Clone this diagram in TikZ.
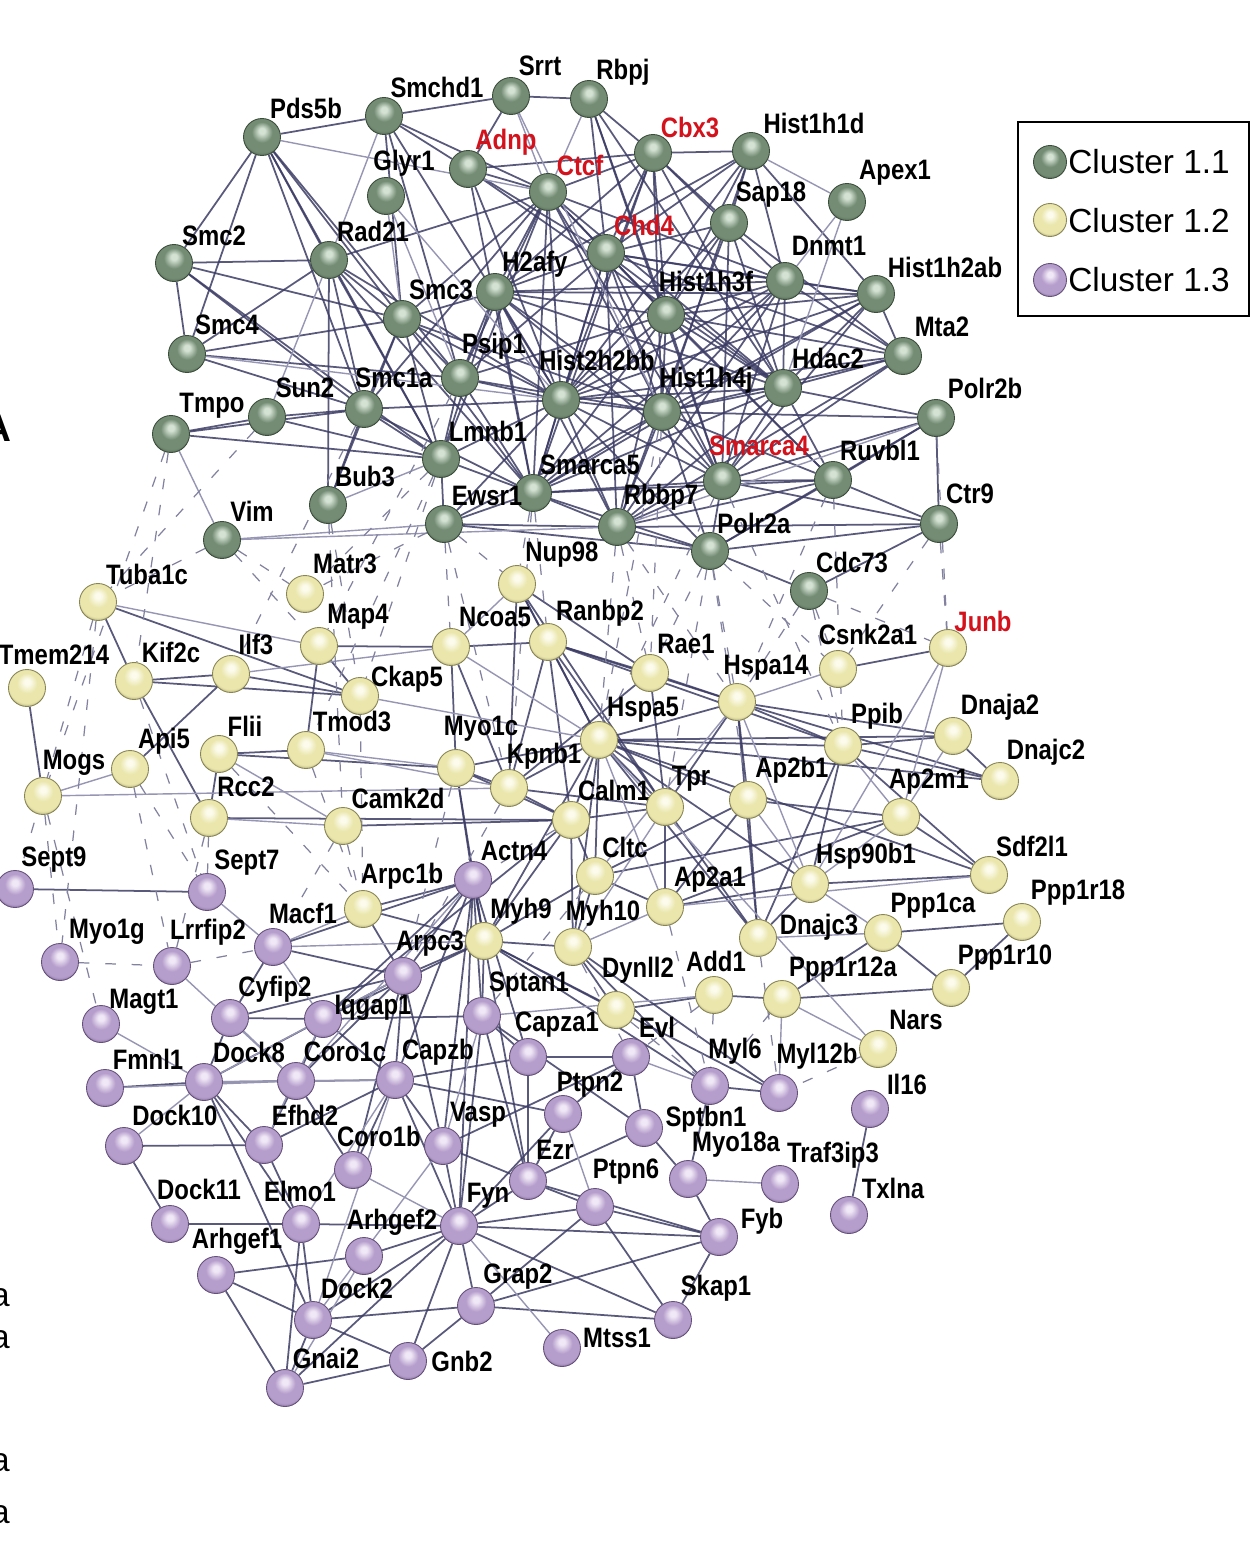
\documentclass[tikz,border=0pt]{standalone}
\usepackage{fontspec}
\setmainfont{Liberation Sans}
\newfontfamily\lblfont{Liberation Sans}[FakeStretch=0.85]
\definecolor{gmain}{RGB}{116,140,116}
\definecolor{gdark}{RGB}{58,76,58}
\definecolor{ghi}{RGB}{212,226,212}
\definecolor{ymain}{RGB}{234,230,172}
\definecolor{ydark}{RGB}{136,132,84}
\definecolor{yhi}{RGB}{252,251,236}
\definecolor{pmain}{RGB}{182,158,204}
\definecolor{pdark}{RGB}{100,80,122}
\definecolor{phi}{RGB}{240,232,246}
\definecolor{edgec}{RGB}{60,60,102}
\definecolor{edgel}{RGB}{150,150,180}
\definecolor{edged}{RGB}{130,130,160}
\definecolor{labred}{RGB}{212,18,28}
\pgfdeclareradialshading{gball}{\pgfqpoint{0bp}{9bp}}{color(0bp)=(ghi); color(4bp)=(ghi); color(14bp)=(gmain); color(25bp)=(gmain); color(33bp)=(gdark); color(50bp)=(gdark)}
\pgfdeclareradialshading{yball}{\pgfqpoint{0bp}{9bp}}{color(0bp)=(yhi); color(4bp)=(yhi); color(14bp)=(ymain); color(25bp)=(ymain); color(33bp)=(ydark); color(50bp)=(ydark)}
\pgfdeclareradialshading{pball}{\pgfqpoint{0bp}{9bp}}{color(0bp)=(phi); color(4bp)=(phi); color(14bp)=(pmain); color(25bp)=(pmain); color(33bp)=(pdark); color(50bp)=(pdark)}
\pgfdeclarelayer{bgl}
\pgfdeclarelayer{edges}
\pgfsetlayers{bgl,edges,main}
\newcommand\NN[7]{\node[#1] (#3) at (#4,#5) {}; \node[#2] (#3-t) at (#6,#7) {#3};}
\begin{document}
\begin{tikzpicture}[x=0.02cm,y=-0.02cm,
  ball/.style={circle, minimum size=0.74cm, inner sep=0pt, line width=0.5pt},
  gn/.style={ball, shading=gball, draw=gdark},
  yn/.style={ball, shading=yball, draw=ydark},
  pn/.style={ball, shading=pball, draw=pdark},
  lbl/.style={font=\lblfont\bfseries\fontsize{16}{18}\selectfont, inner sep=0pt, text=black},
  lr/.style={lbl, text=labred},
  e/.style={draw=edgec, line width=1.0pt, opacity=0.85},
  el/.style={draw=edgel, line width=0.8pt},
  ed/.style={draw=edged, line width=0.7pt, dash pattern=on 6pt off 9pt},
  legtext/.style={font=\fontsize{19}{22}\selectfont, inner sep=0pt, anchor=west}
]
\useasboundingbox (0,0) rectangle (1251,1559);
\begin{pgfonlayer}{bgl}
\fill[white] (0,0) rectangle (1251,1559);
\end{pgfonlayer}
% ---------------- cluster 1.1 ----------------
\NN{gn}{lbl}{Pds5b}{262}{137}{306}{108}
\NN{gn}{lbl}{Smchd1}{384}{116}{437}{87}
\NN{gn}{lbl}{Srrt}{511}{96}{540}{66}
\NN{gn}{lbl}{Rbpj}{589}{99}{623}{72}
\NN{gn}{lbl}{Glyr1}{386}{196}{404}{163}
\NN{gn}{lr}{Adnp}{468}{169}{506}{142}
\NN{gn}{lr}{Ctcf}{548}{192}{580}{165}
\NN{gn}{lr}{Cbx3}{653}{153}{690}{127}
\NN{gn}{lbl}{Hist1h1d}{751}{151}{814}{123}
\NN{gn}{lbl}{Apex1}{847}{202}{895}{173}
\NN{gn}{lbl}{Sap18}{729}{223}{771}{195}
\NN{gn}{lr}{Chd4}{606}{253}{644}{225}
\NN{gn}{lbl}{Smc2}{174}{263}{214}{236}
\NN{gn}{lbl}{Rad21}{329}{260}{373}{231}
\NN{gn}{lbl}{H2afy}{495}{292}{535}{264}
\NN{gn}{lbl}{Smc3}{402}{319}{441}{290}
\NN{gn}{lbl}{Dnmt1}{785}{281}{829}{246}
\NN{gn}{lbl}{Hist1h3f}{666}{315}{706}{281}
\NN{gn}{lbl}{Hist1h2ab}{876}{294}{945}{267}
\NN{gn}{lbl}{Smc4}{187}{354}{227}{325}
\NN{gn}{lbl}{Psip1}{460}{378}{494}{346}
\NN{gn}{lbl}{Hist2h2bb}{561}{400}{597}{360}
\NN{gn}{lbl}{Mta2}{903}{356}{942}{327}
\NN{gn}{lbl}{Hdac2}{783}{388}{828}{358}
\NN{gn}{lbl}{Hist1h4j}{662}{412}{706}{380}
\NN{gn}{lbl}{Smc1a}{364}{409}{394}{378}
\NN{gn}{lbl}{Sun2}{267}{417}{305}{388}
\NN{gn}{lbl}{Tmpo}{171}{434}{212}{406}
\NN{gn}{lbl}{Polr2b}{936}{418}{985}{388}
\NN{gn}{lbl}{Lmnb1}{441}{459}{488}{431}
\NN{gn}{lr}{Smarca4}{722}{481}{759}{446}
\NN{gn}{lbl}{Ruvbl1}{833}{480}{880}{450}
\NN{gn}{lbl}{Smarca5}{533}{493}{590}{465}
\NN{gn}{lbl}{Bub3}{328}{505}{365}{476}
\NN{gn}{lbl}{Ewsr1}{444}{524}{487}{496}
\NN{gn}{lbl}{Rbbp7}{617}{527}{661}{497}
\NN{gn}{lbl}{Ctr9}{939}{524}{970}{494}
\NN{gn}{lbl}{Vim}{222}{540}{252}{511}
\NN{gn}{lbl}{Polr2a}{710}{551}{754}{523}
\NN{gn}{lbl}{Cdc73}{809}{591}{852}{562}
% ---------------- cluster 1.2 ----------------
\NN{yn}{lbl}{Nup98}{517}{584}{562}{555}
\NN{yn}{lbl}{Matr3}{305}{594}{345}{564}
\NN{yn}{lbl}{Tuba1c}{98}{602}{147}{574}
\NN{yn}{lbl}{Map4}{319}{646}{358}{617}
\NN{yn}{lbl}{Ncoa5}{451}{647}{495}{617}
\NN{yn}{lbl}{Ranbp2}{548}{642}{600}{613}
\NN{yn}{lbl}{Rae1}{650}{673}{686}{644}
\NN{yn}{lbl}{Csnk2a1}{838}{669}{868}{634}
\NN{yn}{lr}{Junb}{948}{648}{983}{621}
\NN{yn}{lbl}{Tmem214}{27}{688}{54}{655}
\NN{yn}{lbl}{Kif2c}{134}{681}{171}{652}
\NN{yn}{lbl}{Ilf3}{231}{674}{256}{644}
\NN{yn}{lbl}{Ckap5}{360}{696}{407}{679}
\NN{yn}{lbl}{Hspa14}{737}{702}{766}{668}
\NN{yn}{lbl}{Hspa5}{599}{740}{643}{710}
\NN{yn}{lbl}{Tmod3}{306}{750}{352}{721}
\NN{yn}{lbl}{Myo1c}{456}{768}{481}{729}
\NN{yn}{lbl}{Flii}{219}{754}{245}{726}
\NN{yn}{lbl}{Api5}{130}{769}{164}{741}
\NN{yn}{lbl}{Mogs}{43}{796}{74}{763}
\NN{yn}{lbl}{Kpnb1}{509}{788}{544}{756}
\NN{yn}{lbl}{Calm1}{571}{820}{614}{790}
\NN{yn}{lbl}{Tpr}{665}{807}{691}{779}
\NN{yn}{lbl}{Ap2b1}{748}{800}{792}{770}
\NN{yn}{lbl}{Ppib}{843}{746}{877}{716}
\NN{yn}{lbl}{Dnaja2}{953}{736}{1000}{707}
\NN{yn}{lbl}{Dnajc2}{1000}{781}{1046}{752}
\NN{yn}{lbl}{Ap2m1}{901}{817}{929}{782}
\NN{yn}{lbl}{Rcc2}{209}{818}{246}{787}
\NN{yn}{lbl}{Camk2d}{343}{826}{398}{798}
\NN{yn}{lbl}{Cltc}{595}{876}{625}{847}
\NN{yn}{lbl}{Hsp90b1}{810}{884}{866}{856}
\NN{yn}{lbl}{Sdf2l1}{989}{875}{1032}{846}
\NN{yn}{lbl}{Ap2a1}{665}{907}{710}{880}
\NN{yn}{lbl}{Arpc1b}{363}{909}{402}{876}
\NN{yn}{lbl}{Ppp1ca}{883}{933}{933}{906}
\NN{yn}{lbl}{Ppp1r18}{1022}{922}{1078}{893}
\NN{yn}{lbl}{Dnajc3}{758}{938}{819}{927}
\NN{yn}{lbl}{Myh9}{484}{941}{521}{911}
\NN{yn}{lbl}{Myh10}{573}{947}{603}{913}
\NN{yn}{lbl}{Add1}{714}{995}{716}{961}
\NN{yn}{lbl}{Ppp1r12a}{782}{999}{843}{970}
\NN{yn}{lbl}{Dynll2}{616}{1010}{638}{970}
\NN{yn}{lbl}{Ppp1r10}{951}{988}{1005}{958}
\NN{yn}{lbl}{Nars}{878}{1049}{916}{1020}
% ---------------- cluster 1.3 ----------------
\NN{pn}{lbl}{Actn4}{473}{880}{514}{851}
\NN{pn}{lbl}{Sept9}{15}{889}{54}{860}
\NN{pn}{lbl}{Sept7}{207}{892}{247}{863}
\NN{pn}{lbl}{Macf1}{273}{947}{303}{913}
\NN{pn}{lbl}{Myo1g}{60}{962}{107}{932}
\NN{pn}{lbl}{Lrrfip2}{172}{966}{208}{932}
\NN{pn}{lbl}{Arpc3}{403}{976}{430}{944}
\NN{pn}{lbl}{Magt1}{101}{1024}{144}{1002}
\NN{pn}{lbl}{Cyfip2}{230}{1018}{275}{989}
\NN{pn}{lbl}{Iqgap1}{323}{1019}{373}{1008}
\NN{pn}{lbl}{Sptan1}{482}{1016}{529}{985}
\NN{pn}{lbl}{Capza1}{528}{1057}{557}{1025}
\NN{pn}{lbl}{Evl}{631}{1057}{657}{1027}
\NN{pn}{lbl}{Fmnl1}{105}{1088}{148}{1059}
\NN{pn}{lbl}{Dock8}{204}{1082}{249}{1052}
\NN{pn}{lbl}{Coro1c}{296}{1081}{345}{1052}
\NN{pn}{lbl}{Capzb}{395}{1080}{438}{1052}
\NN{pn}{lbl}{Myl6}{710}{1086}{735}{1051}
\NN{pn}{lbl}{Myl12b}{779}{1093}{817}{1056}
\NN{pn}{lbl}{Ptpn2}{563}{1114}{590}{1085}
\NN{pn}{lbl}{Il16}{870}{1109}{907}{1084}
\NN{pn}{lbl}{Dock10}{124}{1146}{175}{1115}
\NN{pn}{lbl}{Efhd2}{264}{1145}{305}{1115}
\NN{pn}{lbl}{Coro1b}{353}{1170}{379}{1136}
\NN{pn}{lbl}{Vasp}{443}{1146}{478}{1115}
\NN{pn}{lbl}{Sptbn1}{644}{1128}{706}{1119}
\NN{pn}{lbl}{Ezr}{528}{1181}{555}{1150}
\NN{pn}{lbl}{Myo18a}{688}{1179}{736}{1145}
\NN{pn}{lbl}{Traf3ip3}{780}{1184}{833}{1155}
\NN{pn}{lbl}{Ptpn6}{595}{1207}{626}{1172}
\NN{pn}{lbl}{Txlna}{849}{1215}{893}{1188}
\NN{pn}{lbl}{Dock11}{170}{1224}{199}{1189}
\NN{pn}{lbl}{Elmo1}{301}{1224}{300}{1191}
\NN{pn}{lbl}{Fyn}{459}{1226}{488}{1196}
\NN{pn}{lbl}{Arhgef2}{364}{1256}{392}{1222}
\NN{pn}{lbl}{Fyb}{719}{1237}{762}{1221}
\NN{pn}{lbl}{Arhgef1}{216}{1275}{237}{1241}
\NN{pn}{lbl}{Dock2}{313}{1320}{357}{1288}
\NN{pn}{lbl}{Grap2}{476}{1306}{518}{1277}
\NN{pn}{lbl}{Skap1}{673}{1320}{716}{1288}
\NN{pn}{lbl}{Mtss1}{562}{1348}{617}{1338}
\NN{pn}{lbl}{Gnai2}{285}{1388}{326}{1358}
\NN{pn}{lbl}{Gnb2}{408}{1361}{462}{1361}
% ---------------- edges ----------------
\begin{pgfonlayer}{edges}
\foreach \a/\b in {Pds5b/Smchd1,Pds5b/Smc2,Pds5b/Smc4,Pds5b/Rad21,Pds5b/Smc3,Pds5b/Smc1a,Pds5b/Lmnb1,Pds5b/Psip1,
 Smchd1/Srrt,Smchd1/Adnp,Smchd1/Ctcf,Smchd1/Hist2h2bb,Smchd1/Smc3,Smchd1/Psip1,
 Srrt/Rbpj,Srrt/Adnp,Rbpj/Cbx3,Rbpj/Chd4,Rbpj/Hdac2,Rbpj/Hist1h3f,Rbpj/Smarca4,
 Adnp/Ctcf,Adnp/Chd4,Adnp/Cbx3,Adnp/Hist2h2bb,Adnp/Smarca5,Adnp/Hdac2,
 Ctcf/Cbx3,Ctcf/Rad21,Ctcf/Smc3,Ctcf/Smc1a,Ctcf/Chd4,Ctcf/H2afy,Ctcf/Hist1h3f,Ctcf/Hist2h2bb,Ctcf/Hist1h4j,Ctcf/Smarca5,Ctcf/Smarca4,Ctcf/Dnmt1,Ctcf/Hdac2,Ctcf/Lmnb1,Ctcf/Psip1,
 Cbx3/Hist1h1d,Cbx3/Chd4,Cbx3/Sap18,Cbx3/Hist1h3f,Cbx3/Hist1h4j,Cbx3/Dnmt1,Cbx3/Hdac2,Cbx3/Hist2h2bb,Cbx3/Smarca5,Cbx3/H2afy,
 Hist1h1d/Sap18,Hist1h1d/Hist1h3f,Hist1h1d/Dnmt1,Hist1h1d/Hist1h2ab,Hist1h1d/Chd4,Hist1h1d/Hist2h2bb,Hist1h1d/Hist1h4j,Hist1h1d/H2afy,
 Sap18/Chd4,Sap18/Hdac2,Sap18/Mta2,Sap18/Hist1h3f,Sap18/Smarca4,Sap18/Rbbp7,Sap18/Hist2h2bb,
 Chd4/H2afy,Chd4/Hist1h3f,Chd4/Dnmt1,Chd4/Hist1h2ab,Chd4/Mta2,Chd4/Hdac2,Chd4/Hist1h4j,Chd4/Hist2h2bb,Chd4/Smarca4,Chd4/Smarca5,Chd4/Rbbp7,Chd4/Ruvbl1,Chd4/Psip1,
 Smc2/Smc4,Smc2/Rad21,Smc2/Smc3,Smc2/Smc1a,Smc2/Lmnb1,
 Smc4/Rad21,Smc4/Smc3,Smc4/Smc1a,Smc4/Psip1,
 Rad21/Smc3,Rad21/Smc1a,Rad21/Bub3,Rad21/Lmnb1,Rad21/Smarca5,Rad21/Hist2h2bb,
 H2afy/Smc3,H2afy/Hist1h3f,H2afy/Hist2h2bb,H2afy/Hist1h4j,H2afy/Psip1,H2afy/Dnmt1,H2afy/Hist1h2ab,H2afy/Smarca5,H2afy/Hdac2,H2afy/Smarca4,H2afy/Lmnb1,H2afy/Rbbp7,
 Smc3/Smc1a,Smc3/Psip1,Smc3/Hist2h2bb,Smc3/Lmnb1,Smc3/Smarca5,Smc3/Bub3,Smc3/Hist1h4j,
 Dnmt1/Hist1h3f,Dnmt1/Hdac2,Dnmt1/Hist1h2ab,Dnmt1/Mta2,Dnmt1/Hist1h4j,Dnmt1/Hist2h2bb,Dnmt1/Smarca4,Dnmt1/Rbbp7,Dnmt1/Smarca5,
 Hist1h3f/Hist1h2ab,Hist1h3f/Hist2h2bb,Hist1h3f/Hist1h4j,Hist1h3f/Hdac2,Hist1h3f/Mta2,Hist1h3f/Smarca4,Hist1h3f/Smarca5,Hist1h3f/Rbbp7,Hist1h3f/Psip1,Hist1h3f/Ruvbl1,
 Hist1h2ab/Hist2h2bb,Hist1h2ab/Hist1h4j,Hist1h2ab/Hdac2,Hist1h2ab/Mta2,Hist1h2ab/Smarca4,Hist1h2ab/Smarca5,
 Mta2/Hdac2,Mta2/Hist1h4j,Mta2/Rbbp7,Mta2/Smarca4,Mta2/Hist2h2bb,
 Psip1/Hist2h2bb,Psip1/Smarca5,Psip1/Hist1h4j,Psip1/Lmnb1,
 Hist2h2bb/Hist1h4j,Hist2h2bb/Hdac2,Hist2h2bb/Smarca5,Hist2h2bb/Smarca4,Hist2h2bb/Rbbp7,Hist2h2bb/Lmnb1,Hist2h2bb/Ewsr1,Hist2h2bb/Polr2a,Hist2h2bb/Smc1a,
 Hdac2/Hist1h4j,Hdac2/Smarca4,Hdac2/Rbbp7,Hdac2/Ruvbl1,Hdac2/Smarca5,Hdac2/Polr2b,
 Hist1h4j/Smarca4,Hist1h4j/Smarca5,Hist1h4j/Rbbp7,Hist1h4j/Polr2a,Hist1h4j/Polr2b,Hist1h4j/Ruvbl1,Hist1h4j/Ewsr1,
 Smc1a/Sun2,Smc1a/Bub3,Smc1a/Lmnb1,Smc1a/Tmpo,Smc1a/Smarca5,
 Sun2/Tmpo,Sun2/Lmnb1,Tmpo/Lmnb1,
 Polr2b/Polr2a,Polr2b/Ctr9,Polr2b/Ruvbl1,Polr2b/Smarca4,
 Lmnb1/Ewsr1,Lmnb1/Smarca5,
 Smarca4/Ruvbl1,Smarca4/Smarca5,Smarca4/Rbbp7,Smarca4/Polr2a,Smarca4/Ctr9,
 Ruvbl1/Polr2a,Ruvbl1/Ctr9,Ruvbl1/Rbbp7,Ruvbl1/Smarca5,
 Smarca5/Ewsr1,Smarca5/Rbbp7,Smarca5/Polr2a,Ewsr1/Polr2a,Ewsr1/Rbbp7,
 Rbbp7/Polr2a,Rbbp7/Ctr9,Ctr9/Polr2a,Ctr9/Cdc73,Polr2a/Cdc73}
 {\draw[e] (\a) -- (\b);}
\foreach \a/\b in {Pds5b/Ctcf,Smchd1/Rad21,Glyr1/Smc3,Glyr1/Psip1,Glyr1/Hist2h2bb,Srrt/Ctcf,Srrt/Hist1h4j,Rbpj/Ctcf,
 Hist1h1d/Apex1,Apex1/Dnmt1,Apex1/Hdac2,Smc4/Hist2h2bb,Rad21/Sun2,Tmpo/Vim,Vim/Ewsr1,Vim/Rbbp7,Polr2b/Rbbp7,Bub3/Lmnb1}
 {\draw[el] (\a) -- (\b);}
% cluster 1.2
\foreach \a/\b in {Nup98/Ranbp2,Nup98/Rae1,Nup98/Kpnb1,Nup98/Hspa5,Nup98/Tpr,
 Ranbp2/Rae1,Ranbp2/Kpnb1,Ranbp2/Hspa5,Ranbp2/Tpr,Ranbp2/Ncoa5,Ranbp2/Calm1,Ranbp2/Hspa14,Ranbp2/Ppib,
 Ncoa5/Map4,Ncoa5/Myo1c,Ncoa5/Kpnb1,Rae1/Hspa14,Rae1/Kpnb1,Rae1/Tpr,
 Hspa5/Hspa14,Hspa5/Ppib,Hspa5/Dnaja2,Hspa5/Dnajc2,Hspa5/Hsp90b1,Hspa5/Dnajc3,Hspa5/Sdf2l1,Hspa5/Calm1,Hspa5/Kpnb1,Hspa5/Tpr,Hspa5/Myo1c,Hspa5/Cltc,Hspa5/Ap2b1,Hspa5/Myh9,Hspa5/Myh10,
 Hspa14/Ppib,Hspa14/Dnaja2,Hspa14/Dnajc2,Hspa14/Tpr,Hspa14/Ap2b1,Hspa14/Dnajc3,
 Csnk2a1/Junb,Ppib/Dnaja2,Ppib/Dnajc2,Ppib/Hsp90b1,Ppib/Sdf2l1,Ppib/Dnajc3,Dnaja2/Dnajc2,
 Ap2b1/Ap2m1,Ap2b1/Ap2a1,Ap2b1/Cltc,Ap2b1/Dnajc3,Ap2m1/Ap2a1,Ap2m1/Cltc,Ap2m1/Sdf2l1,
 Tpr/Kpnb1,Tpr/Calm1,Tpr/Ap2a1,Tpr/Dnajc3,
 Calm1/Kpnb1,Calm1/Myo1c,Calm1/Camk2d,Calm1/Cltc,Calm1/Myh9,Calm1/Myh10,Calm1/Iqgap1,Calm1/Rcc2,
 Kpnb1/Myo1c,Myo1c/Flii,Myo1c/Actn4,Myo1c/Myh9,
 Cltc/Ap2a1,Cltc/Myh9,Cltc/Myh10,Hsp90b1/Sdf2l1,Hsp90b1/Dnajc3,Hsp90b1/Ap2a1,
 Ppp1ca/Ppp1r18,Ppp1ca/Ppp1r10,Ppp1ca/Ppp1r12a,Ppp1r18/Ppp1r10,Ppp1r12a/Ppp1r10,Ppp1r12a/Add1,
 Add1/Dynll2,Dynll2/Myh9,Dynll2/Myh10,
 Myh9/Myh10,Myh9/Arpc1b,Myh9/Arpc3,Myh9/Actn4,Myh9/Sptan1,Myh9/Iqgap1,Myh9/Myl6,Myh9/Myl12b,
 Myh10/Myl6,Myh10/Myl12b,Arpc1b/Arpc3,Arpc1b/Actn4,
 Flii/Tmod3,Tmod3/Map4,Map4/Ckap5,Ckap5/Ilf3,Ckap5/Kif2c,Ckap5/Tuba1c,
 Tuba1c/Kif2c,Kif2c/Ilf3,Kif2c/Rcc2,Ilf3/Api5,Tmem214/Mogs,Flii/Rcc2}
 {\draw[e] (\a) -- (\b);}
\foreach \a/\b in {Nup98/Ncoa5,Ncoa5/Hspa5,Hspa14/Hsp90b1,Hspa14/Cltc,Csnk2a1/Hspa14,Junb/Ap2m1,Junb/Hsp90b1,Ppib/Ap2m1,Dnaja2/Ap2m1,
 Ap2b1/Hsp90b1,Ap2m1/Hsp90b1,Tpr/Myh10,Sdf2l1/Ap2a1,Hsp90b1/Ppp1ca,Ppp1ca/Dnajc3,Ppp1r12a/Myl12b,Ppp1r12a/Nars,Add1/Sptan1,
 Myh10/Ap2a1,Arpc1b/Macf1,Camk2d/Flii,Camk2d/Rcc2,Tmod3/Kpnb1,Myo1c/Tmod3,Map4/Tuba1c,Ckap5/Hspa5,Ilf3/Ncoa5,Mogs/Kpnb1,Mogs/Api5,Nars/Hspa5,Hspa5/Ap2a1}
 {\draw[el] (\a) -- (\b);}
% cluster 1.3
\foreach \a/\b in {Sept9/Sept7,
 Actn4/Arpc3,Actn4/Sptan1,Actn4/Iqgap1,Actn4/Capza1,Actn4/Capzb,Actn4/Vasp,Actn4/Ezr,Actn4/Fyn,Actn4/Macf1,
 Macf1/Arpc3,Macf1/Cyfip2,Arpc3/Iqgap1,Arpc3/Coro1c,Arpc3/Capzb,Arpc3/Coro1b,Arpc3/Cyfip2,Arpc3/Vasp,
 Iqgap1/Cyfip2,Iqgap1/Coro1c,Iqgap1/Capzb,Iqgap1/Dock8,Iqgap1/Sptan1,Cyfip2/Dock8,
 Fmnl1/Dock8,Dock8/Coro1c,Dock8/Elmo1,Dock8/Dock2,Dock8/Efhd2,
 Coro1c/Capzb,Coro1c/Coro1b,Coro1c/Efhd2,
 Capzb/Capza1,Capzb/Coro1b,Capzb/Vasp,Capzb/Efhd2,Capzb/Ptpn2,Capzb/Fyn,
 Sptan1/Sptbn1,Sptan1/Ezr,Sptan1/Fyn,Sptan1/Capza1,
 Capza1/Evl,Capza1/Ezr,Evl/Vasp,Evl/Sptbn1,Evl/Ptpn2,Myl6/Myl12b,Myl6/Myo18a,
 Ptpn2/Fyn,Ptpn2/Ezr,Il16/Txlna,Dock10/Efhd2,Dock10/Dock11,Efhd2/Elmo1,
 Vasp/Ezr,Vasp/Fyn,Sptbn1/Ezr,Sptbn1/Myo18a,Ezr/Fyn,Ezr/Ptpn6,Ezr/Fyb,Myo18a/Fyb,
 Ptpn6/Fyn,Ptpn6/Fyb,Ptpn6/Skap1,Ptpn6/Grap2,Dock11/Elmo1,Elmo1/Dock2,Elmo1/Gnai2,Elmo1/Fyn,
 Fyn/Arhgef2,Fyn/Fyb,Fyn/Skap1,Fyn/Grap2,Fyn/Gnb2,Fyn/Gnai2,Fyn/Dock2,
 Arhgef2/Arhgef1,Fyb/Skap1,Fyb/Grap2,Arhgef1/Dock2,Arhgef1/Gnai2,
 Dock2/Gnai2,Dock2/Gnb2,Dock2/Grap2,Grap2/Gnb2,Grap2/Skap1,Gnai2/Gnb2}
 {\draw[e] (\a) -- (\b);}
\foreach \a/\b in {Sept7/Macf1,Macf1/Iqgap1,Arpc3/Dock8,Iqgap1/Efhd2,Cyfip2/Coro1c,Lrrfip2/Coro1c,Magt1/Dock8,Fmnl1/Coro1c,
 Dock8/Capzb,Capzb/Elmo1,Capzb/Dock2,Sptan1/Vasp,Evl/Myl6,Ptpn2/Ptpn6,Dock10/Dock8,Coro1b/Fyn,Vasp/Dock2,
 Myo18a/Traf3ip3,Arhgef2/Gnai2,Mtss1/Fyn,Actn4/Coro1c,Myh9/Macf1}
 {\draw[el] (\a) -- (\b);}
% inter-cluster (dashed)
\foreach \a/\b in {Vim/Tuba1c,Vim/Matr3,Vim/Map4,Tmpo/Kif2c,Tmpo/Mogs,Lmnb1/Matr3,Lmnb1/Ckap5,Bub3/Ckap5,Bub3/Camk2d,Smc1a/Ilf3,
 Ewsr1/Nup98,Ewsr1/Ncoa5,Ewsr1/Matr3,Smarca5/Nup98,Smarca5/Ranbp2,Rbbp7/Rae1,Rbbp7/Hspa14,Polr2a/Csnk2a1,Polr2a/Hspa14,
 Cdc73/Junb,Cdc73/Csnk2a1,Ruvbl1/Hspa14,Ctr9/Junb,Polr2b/Junb,Hist1h4j/Hspa5,Smarca4/Ppib,Sun2/Tuba1c,Lmnb1/Tmod3,Psip1/Map4,
 Rbbp7/Hspa5,Polr2a/Tpr,Smarca4/Hspa5,Ruvbl1/Ppib,Ctr9/Csnk2a1,Cdc73/Hspa14,Ewsr1/Kpnb1,Smarca5/Kpnb1,Polr2a/Ap2b1,Hist1h4j/Rae1,Polr2a/Rae1,Cdc73/Ppib,
 Mogs/Myo1g,Api5/Sept7,Rcc2/Sept7,Rcc2/Lrrfip2,Tuba1c/Sept9,Kif2c/Sept7,Flii/Arpc1b,Camk2d/Arpc1b,Myo1g/Lrrfip2,Lrrfip2/Macf1,
 Dynll2/Myl6,Add1/Evl,Nars/Myl12b,Myh10/Evl,Ap2a1/Myl6,Calm1/Actn4,Camk2d/Macf1,Mogs/Magt1,Ckap5/Arpc1b,Tmod3/Arpc1b,
 Dnajc3/Myl12b,Ppp1r12a/Myl6,Add1/Myl6,Kpnb1/Arpc3,Cltc/Sptan1,Myo1c/Arpc3,Tuba1c/Myo1g,Api5/Lrrfip2}
 {\draw[ed] (\a) -- (\b);}
\end{pgfonlayer}
% ---------------- legend ----------------
\node[draw=black, line width=1.3pt, minimum width=4.62cm, minimum height=3.88cm, inner sep=0pt] (legend) at (1133.5,219) {};
\node[gn, minimum size=0.66cm] (leg1) at (1050,162) {};
\node[yn, minimum size=0.66cm] (leg2) at (1050,220) {};
\node[pn, minimum size=0.66cm] (leg3) at (1050,280) {};
\node[legtext] (leg1-t) at (1068,162) {Cluster 1.1};
\node[legtext] (leg2-t) at (1068,221) {Cluster 1.2};
\node[legtext] (leg3-t) at (1068,280) {Cluster 1.3};
% ---------------- cropped fragments at the left edge ----------------
\node[font=\bfseries\fontsize{22}{24}\selectfont, inner sep=0pt, anchor=east] (fragA) at (12,428) {A};
\node[font=\fontsize{19}{22}\selectfont, inner sep=0pt, anchor=east] (fraga1) at (10,1298) {a};
\node[font=\fontsize{19}{22}\selectfont, inner sep=0pt, anchor=east] (fraga2) at (10,1340) {a};
\node[font=\fontsize{19}{22}\selectfont, inner sep=0pt, anchor=east] (fraga3) at (10,1463) {a};
\node[font=\fontsize{19}{22}\selectfont, inner sep=0pt, anchor=east] (fraga4) at (10,1515) {a};
\end{tikzpicture}
\end{document}
